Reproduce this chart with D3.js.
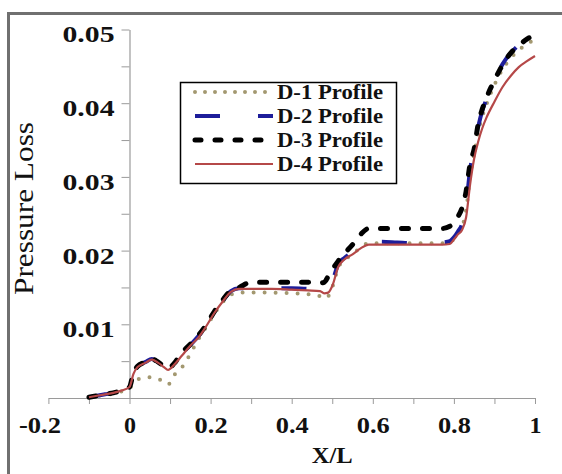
<!DOCTYPE html>
<html>
<head>
<meta charset="utf-8">
<script src="https://cdn.jsdelivr.net/npm/d3@7"></script>
<style>
  html, body { margin: 0; padding: 0; background: #fff; }
  svg { display: block; }
</style>
</head>
<body>
<svg id="chart" width="562" height="474"></svg>
<script>
// ---------------- DATA ----------------
const xVals = [-0.1, -0.08, -0.06, -0.04, -0.02, 0, 0.01, 0.02, 0.04, 0.055, 0.07, 0.085, 0.095, 0.11, 0.13, 0.15, 0.17, 0.19, 0.21, 0.23, 0.25, 0.27, 0.30, 0.35, 0.40, 0.44, 0.47, 0.48, 0.49, 0.50, 0.515, 0.53, 0.55, 0.57, 0.59, 0.62, 0.66, 0.70, 0.74, 0.77, 0.79, 0.80, 0.81, 0.82, 0.83, 0.84, 0.85, 0.86, 0.87, 0.88, 0.90, 0.92, 0.94, 0.96, 0.98, 1.0];

const d1Values = [0.0001, 0.0003, 0.0004, 0.0006, 0.0009, 0.0013, 0.0020, 0.0025, 0.0028, 0.0028, 0.0026, 0.0022, 0.0018, 0.0031, 0.0042, 0.0060, 0.0080, 0.0097, 0.0115, 0.0130, 0.0140, 0.0143, 0.0143, 0.0143, 0.0142, 0.0141, 0.0138, 0.0135, 0.0138, 0.0150, 0.0177, 0.0187, 0.0195, 0.0204, 0.0210, 0.0210, 0.0210, 0.0210, 0.0210, 0.0210, 0.0211, 0.0216, 0.0224, 0.0232, 0.0255, 0.0300, 0.0332, 0.0360, 0.0382, 0.0398, 0.0425, 0.0446, 0.0461, 0.0472, 0.0480, 0.0487];

const d2Values = [0.0001, 0.0003, 0.0005, 0.0007, 0.0010, 0.0015, 0.0034, 0.0043, 0.0049, 0.0053, 0.0049, 0.0043, 0.0039, 0.0046, 0.0060, 0.0072, 0.0084, 0.0099, 0.0117, 0.0132, 0.0145, 0.0149, 0.0149, 0.0149, 0.0149, 0.0148, 0.0147, 0.0145, 0.0148, 0.0158, 0.0182, 0.0190, 0.0198, 0.0206, 0.0212, 0.0212, 0.0211, 0.0210, 0.0210, 0.0211, 0.0213, 0.0218, 0.0226, 0.0236, 0.0262, 0.0310, 0.0340, 0.0368, 0.0390, 0.0405, 0.0432, 0.0453, 0.0468, 0.0479, 0.0488, 0.0494];

const d3Values = [0.0001, 0.0003, 0.0005, 0.0007, 0.0010, 0.0015, 0.0035, 0.0043, 0.0049, 0.0053, 0.0049, 0.0043, 0.0040, 0.0047, 0.0062, 0.0073, 0.0085, 0.0100, 0.0118, 0.0133, 0.0146, 0.0150, 0.0157, 0.0157, 0.0157, 0.0157, 0.0156, 0.0157, 0.0165, 0.0174, 0.0186, 0.0196, 0.0208, 0.0222, 0.0230, 0.0230, 0.0230, 0.0230, 0.0230, 0.0230, 0.0233, 0.0238, 0.0246, 0.0258, 0.0280, 0.0318, 0.0338, 0.0372, 0.0392, 0.0407, 0.0431, 0.0452, 0.0468, 0.0478, 0.0487, 0.0492];

const d4Values = [0.0001, 0.0003, 0.0005, 0.0007, 0.0010, 0.0015, 0.0033, 0.0042, 0.0048, 0.0052, 0.0048, 0.0042, 0.0038, 0.0045, 0.0058, 0.0071, 0.0082, 0.0098, 0.0116, 0.0131, 0.0144, 0.0148, 0.0148, 0.0148, 0.0147, 0.0146, 0.0145, 0.0142, 0.0143, 0.0152, 0.0178, 0.0188, 0.0195, 0.0203, 0.0208, 0.0208, 0.0208, 0.0208, 0.0208, 0.0208, 0.0209, 0.0215, 0.0222, 0.0228, 0.0245, 0.0290, 0.0325, 0.0348, 0.0366, 0.0380, 0.0402, 0.0422, 0.0437, 0.0449, 0.0457, 0.0464];

const seriesNames = ["D-1 Profile", "D-2 Profile", "D-3 Profile", "D-4 Profile"];
const xTickValues = [-0.2, -0.1, 0, 0.1, 0.2, 0.3, 0.4, 0.5, 0.6, 0.7, 0.8, 0.9, 1.0];
const xTickLabels = ["-0.2", "", "0", "", "0.2", "", "0.4", "", "0.6", "", "0.8", "", "1"];
const yTickValues = [0.005, 0.01, 0.015, 0.02, 0.025, 0.03, 0.035, 0.04, 0.045, 0.05];
const yTickLabels = ["", "0.01", "", "0.02", "", "0.03", "", "0.04", "", "0.05"];
const xTitle = "X/L";
const yTitle = "Pressure Loss";

// ---------------- STYLES ----------------
const styles = [
  { color: "#a39870", width: 4, dash: "0,11", cap: "round", legendDash: "0,10" },
  { color: "#1d1d9a", width: 4, dash: "25,38", cap: "butt", legendDash: "25,38" },
  { color: "#000000", width: 5, dash: "7,14", cap: "round", legendDash: "6,14" },
  { color: "#b54848", width: 2.2, dash: null, cap: "butt", legendDash: null }
];
const seriesValues = [d1Values, d2Values, d3Values, d4Values];

// pick an installed Times-like serif
function pickFont(cands) {
  const c = document.createElement("canvas").getContext("2d");
  const probe = "Pressure Loss 0.05 D-1 Profile";
  for (const f of cands) {
    let differs = false;
    for (const base of ["monospace", "sans-serif"]) {
      c.font = `bold 24px ${base}`;
      const w0 = c.measureText(probe).width;
      c.font = `bold 24px "${f}", ${base}`;
      const w1 = c.measureText(probe).width;
      if (Math.abs(w0 - w1) > 0.5) differs = true; else { differs = false; break; }
    }
    if (differs) return `"${f}"`;
  }
  return "serif";
}
const serif = pickFont(["Liberation Serif", "Times New Roman", "Tinos", "Nimbus Roman", "Times", "FreeSerif", "DejaVu Serif"]) + ", serif";

const svg = d3.select("#chart");

// frame
svg.append("rect").attr("x", 8.5).attr("y", 13.5).attr("width", 600).attr("height", 500)
  .attr("fill", "none").attr("stroke", "#707070").attr("stroke-width", 3);

const x = d3.scaleLinear().domain([-0.2, 1]).range([48.4, 535]);
const y = d3.scaleLinear().domain([0, 0.05]).range([398, 29.5]);

function fit(sel, targetFn) {
  sel.each(function () {
    const t = this.textContent;
    if (t) {
      const w = targetFn(t);
      if (w) d3.select(this).attr("textLength", w).attr("lengthAdjust", "spacingAndGlyphs");
    }
  });
}

// x axis
const xAxis = d3.axisBottom(x).tickValues(xTickValues).tickSize(6).tickSizeOuter(0)
  .tickFormat((d, i) => xTickLabels[i]);
const gx = svg.append("g").attr("transform", `translate(0,${y(0)})`).call(xAxis);
gx.select(".domain").attr("stroke", "#9a9a9a").attr("stroke-width", 1.2);
gx.selectAll(".tick line").attr("stroke", "#9a9a9a");
gx.selectAll(".tick text").attr("y", 35).attr("dy", 0)
  .style("font-family", serif).attr("font-weight", "bold").attr("font-size", 24).attr("fill", "#111");
gx.selectAll(".tick text").filter(function () { return this.textContent === "-0.2"; }).attr("x", -9);
fit(gx.selectAll(".tick text"), t => t.length === 1 ? null : (t.length === 4 ? 42 : 33));

// y axis
const yAxis = d3.axisLeft(y).tickValues(yTickValues).tickSize(8).tickSizeOuter(0)
  .tickFormat((d, i) => yTickLabels[i]);
const gy = svg.append("g").attr("transform", `translate(${x(0)},0)`).call(yAxis);
gy.select(".domain").attr("stroke", "#9a9a9a").attr("stroke-width", 1.2);
gy.selectAll(".tick line").attr("stroke", "#9a9a9a");
gy.selectAll(".tick text").attr("x", -15).attr("dy", "0.35em").attr("y", 4)
  .style("font-family", serif).attr("font-weight", "bold").attr("font-size", 24).attr("fill", "#111");
fit(gy.selectAll(".tick text"), t => 52);

// titles
svg.append("text").attr("x", x(0.5)).attr("y", 463).attr("text-anchor", "middle")
  .style("font-family", serif).attr("font-weight", "bold").attr("font-size", 24)
  .attr("fill", "#111").attr("textLength", 41).attr("lengthAdjust", "spacingAndGlyphs").text(xTitle);
svg.append("text").attr("transform", "translate(33,208.5) rotate(-90)").attr("text-anchor", "middle")
  .style("font-family", serif).attr("font-size", 27).attr("fill", "#111")
  .attr("textLength", 173).attr("lengthAdjust", "spacingAndGlyphs").text(yTitle);

// lines
const line = d3.line().x((d, i) => x(xVals[i])).y(d => y(d)).curve(d3.curveMonotoneX);
seriesValues.forEach((vals, k) => {
  const s = styles[k];
  const p = svg.append("path").datum(vals).attr("d", line)
    .attr("fill", "none").attr("stroke", s.color).attr("stroke-width", s.width)
    .attr("stroke-linecap", s.cap).attr("stroke-linejoin", "round");
  if (s.dash) p.attr("stroke-dasharray", s.dash);
});

// legend
const lg = svg.append("g");
lg.append("rect").attr("x", 180.5).attr("y", 82.5).attr("width", 216).attr("height", 101)
  .attr("fill", "#fff").attr("stroke", "#000").attr("stroke-width", 1.5);
const rowY = [92, 116, 140, 164];
seriesNames.forEach((name, k) => {
  const s = styles[k];
  const l = lg.append("line").attr("x1", 195).attr("x2", 273).attr("y1", rowY[k]).attr("y2", rowY[k])
    .attr("stroke", s.color).attr("stroke-width", s.width).attr("stroke-linecap", s.cap);
  if (s.legendDash) l.attr("stroke-dasharray", s.legendDash);
  lg.append("text").attr("x", 277).attr("y", rowY[k] + 7)
    .style("font-family", serif).attr("font-weight", "bold").attr("font-size", 21)
    .attr("fill", "#111").attr("textLength", 106).attr("lengthAdjust", "spacingAndGlyphs").text(name);
});
</script>
</body>
</html>
